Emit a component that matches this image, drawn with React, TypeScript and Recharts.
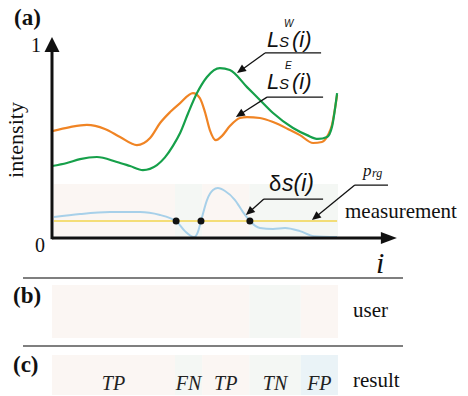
import React from 'react';
import {
  ComposedChart, Line, XAxis, YAxis, ReferenceArea, ReferenceLine, ReferenceDot
} from 'recharts';

const W = 468;
const H = 396;

// L_S^E(i) samples
const iE = [0, 6.3, 12.2, 18.5, 23.8, 29.7, 34.3, 37.8, 41.3, 44.8, 49.3, 51.7, 53.5, 55.2, 57.3, 59.4, 62.2, 65.7, 68.2, 72.7, 77.3, 83.2, 86.7, 91.3, 94.4, 96.5, 97.9, 99.7];
const lsE = [0.557, 0.578, 0.589, 0.568, 0.526, 0.484, 0.521, 0.599, 0.656, 0.703, 0.755, 0.729, 0.656, 0.5625, 0.51, 0.531, 0.583, 0.625, 0.63, 0.625, 0.604, 0.5625, 0.536, 0.495, 0.5, 0.536, 0.589, 0.745];

// L_S^W(i) samples
const iW = [0, 5.2, 9.8, 15.7, 22.7, 27.3, 31.8, 36.7, 39.5, 42.3, 44.8, 47.6, 50.7, 54.2, 58.7, 62.2, 68.2, 72.7, 77.3, 84.3, 89.2, 93.0, 96.2, 97.9, 99.7];
const lsW = [0.375, 0.391, 0.411, 0.422, 0.396, 0.375, 0.354, 0.38, 0.42, 0.48, 0.547, 0.65, 0.755, 0.839, 0.885, 0.875, 0.786, 0.719, 0.651, 0.573, 0.536, 0.516, 0.526, 0.578, 0.755];

// δs(i) samples
const iDelta = [0.7, 9.8, 20.3, 30.8, 37.8, 41.3, 43.4, 46.5, 49.7, 51.0, 52.1, 54.2, 56.3, 58.0, 60.5, 64.0, 66.8, 69.2, 72.7, 77.3, 81.5, 86.7, 91.6, 99.7];
const deltaS = [0.109, 0.125, 0.135, 0.135, 0.12, 0.104, 0.0885, 0.036, 0.005, 0.031, 0.0885, 0.198, 0.25, 0.26, 0.245, 0.198, 0.135, 0.0885, 0.052, 0.047, 0.052, 0.036, 0.01, 0.005];

// threshold p_rg and where δs crosses it
const pRg = 0.0885;
const pRgSpan = [0.7, 99.7];
const crossings = [43.4, 52.1, 69.2];

// segmentations: measurement (a), user (b), result (c)
const measEdges = [0.7, 43, 52.5, 69, 100];
const measClass = ['pos', 'neg', 'pos', 'neg'];
const userEdges = [0, 69, 87, 100];
const userClass = ['pos', 'neg', 'pos'];
const resultEdges = [0, 43, 52.5, 69, 87, 100];
const resultLabels = ['TP', 'FN', 'TP', 'TN', 'FP'];

// callouts: underline start, underline end, arrow target
const callouts = [
  { x0: 74.5, x1: 94.1, y: 0.964, tx: 64.7, ty: 0.859 },
  { x0: 75.2, x1: 94.8, y: 0.734, tx: 64.3, ty: 0.63 },
  { x0: 74.1, x1: 94.8, y: 0.203, tx: 67.8, ty: 0.12 },
  { x0: 105.9, x1: 117.5, y: 0.276, tx: 90.9, ty: 0.094 },
];

const shade: Record<string, string> = {
  pos: '#fbf6f3', neg: '#f4f7f4', TP: '#fbf6f3', FN: '#f4f7f4', TN: '#f4f7f4', FP: '#eaf3f7',
};

const SERIF = 'Liberation Serif, Times New Roman, Times, DejaVu Serif, serif';
const SANS = 'Liberation Sans, Arial, Helvetica, sans-serif';
const serif = { fontFamily: SERIF };
const sans = { fontFamily: SANS };

const pts = (xs: number[], ys: number[]) => xs.map((x, k) => ({ x, y: ys[k] }));

const arrow = (head: number, half: number, width: number) => (p: any) => {
  const { x1, y1, x2, y2 } = p;
  const dx = x2 - x1, dy = y2 - y1;
  const len = Math.hypot(dx, dy) || 1;
  const ux = dx / len, uy = dy / len;
  const bx = x2 - ux * head, by = y2 - uy * head;
  const px = -uy * half, py = ux * half;
  return (
    <g>
      <line x1={x1} y1={y1} x2={bx + ux} y2={by + uy} stroke="#111" strokeWidth={width} />
      <polygon points={`${x2},${y2} ${bx + px},${by + py} ${bx - px},${by - py}`} fill="#111" />
    </g>
  );
};

const bands = (edges: number[], cls: string[], y1: number, y2: number, key: string, labels?: boolean) =>
  cls.map((c, k) => (
    <ReferenceArea
      key={`${key}-${k}`}
      x1={edges[k]}
      x2={edges[k + 1]}
      y1={y1}
      y2={y2}
      fill={shade[c]}
      fillOpacity={1}
      stroke="none"
      label={labels ? {
        value: c, position: 'insideBottom', offset: 5,
        fill: '#222', fontSize: 20, fontStyle: 'italic', style: serif,
      } : undefined}
    />
  ));

export default function App() {
  return (
    <div style={{ position: 'relative', width: W, height: H, background: '#fff' }}>
      <style>{'body{margin:0}'}</style>
      <ComposedChart width={W} height={H} margin={{ top: 34.5, right: 70, bottom: 0.5, left: 52 }}>
        <XAxis type="number" dataKey="x" domain={[0, 121]} hide allowDataOverflow />
        <YAxis type="number" dataKey="y" domain={[-0.82, 1.06]} hide allowDataOverflow />

        {bands(measEdges, measClass, 0.0104, 0.281, 'a')}
        {bands(userEdges, userClass, -0.521, -0.245, 'b')}
        {bands(resultEdges, resultLabels, -0.818, -0.609, 'c', true)}

        <Line data={pts(iE, lsE)} dataKey="y" type="monotone" stroke="#f08424" strokeWidth={2.2}
          dot={false} activeDot={false} isAnimationActive={false} />
        <Line data={pts(iW, lsW)} dataKey="y" type="monotone" stroke="#16a04a" strokeWidth={2.2}
          dot={false} activeDot={false} isAnimationActive={false} />
        <Line data={pts(pRgSpan, [pRg, pRg])} dataKey="y" type="linear" stroke="#f2d44e" strokeWidth={1.6}
          dot={false} activeDot={false} isAnimationActive={false} />
        <Line data={pts(iDelta, deltaS)} dataKey="y" type="monotone" stroke="#a7d0e9" strokeWidth={2}
          dot={false} activeDot={false} isAnimationActive={false} />

        {crossings.map((x) => (
          <ReferenceDot key={x} x={x} y={pRg} r={3.5} fill="#111" stroke="none" />
        ))}

        {/* axes */}
        <ReferenceLine segment={[{ x: 0, y: -0.006 }, { x: 0, y: 1.047 }]} shape={arrow(15, 7.5, 3)} />
        <ReferenceLine segment={[{ x: 0, y: 0 }, { x: 120.6, y: 0 }]} shape={arrow(16, 6, 3)} />

        {callouts.map((c, k) => (
          <ReferenceLine key={`u${k}`} segment={[{ x: c.x0, y: c.y }, { x: c.x1, y: c.y }]} stroke="#111" strokeWidth={1.3} />
        ))}
        {callouts.map((c, k) => (
          <ReferenceLine key={`a${k}`} segment={[{ x: c.x0, y: c.y }, { x: c.tx, y: c.ty }]} shape={arrow(9, 4, 1.3)} />
        ))}
      </ComposedChart>

      <svg width={W} height={H} style={{ position: 'absolute', left: 0, top: 0, pointerEvents: 'none' }}>
        <g fill="#111">
          <text x={14} y={25} fontSize={23} fontWeight="bold" style={serif}>(a)</text>
          <text x={13} y={303} fontSize={23} fontWeight="bold" style={serif}>(b)</text>
          <text x={13} y={372} fontSize={23} fontWeight="bold" style={serif}>(c)</text>
          <text x={36} y={52} fontSize={20} textAnchor="middle" style={serif}>1</text>
          <text x={40} y={252} fontSize={20} textAnchor="middle" style={serif}>0</text>
          <text x={23} y={140} fontSize={22} textAnchor="middle" transform="rotate(-90 23 140)" style={serif}>intensity</text>
          <text x={345} y={218} fontSize={21} style={serif}>measurement</text>
          <text x={353} y={317} fontSize={21} style={serif}>user</text>
          <text x={353} y={387} fontSize={21} style={serif}>result</text>
          <text x={376} y={273} fontSize={30} fontStyle="italic" style={serif}>i</text>
          <text x={363} y={176} fontSize={17} fontStyle="italic" style={serif}>p</text>
          <text x={372} y={177} fontSize={12} fontStyle="italic" style={serif}>rg</text>
        </g>
        <g fill="#111" fontStyle="italic">
          <text x={267} y={47} fontSize={22} style={sans}>L</text>
          <text x={279} y={47} fontSize={15} style={sans}>S</text>
          <text x={284} y={27} fontSize={10} style={sans}>W</text>
          <text x={292} y={47} fontSize={22} style={sans}>(i)</text>
          <text x={267} y={89} fontSize={22} style={sans}>L</text>
          <text x={279} y={89} fontSize={15} style={sans}>S</text>
          <text x={285} y={69} fontSize={10} style={sans}>E</text>
          <text x={292} y={89} fontSize={22} style={sans}>(i)</text>
          <text x={269} y={191} fontSize={22} fontStyle="normal" style={sans}>δ</text>
          <text x={282} y={191} fontSize={23} style={sans}>s(i)</text>
        </g>
        <line x1={23} y1={278} x2={403} y2={278} stroke="#555" strokeWidth={1.5} />
        <line x1={23} y1={346} x2={403} y2={346} stroke="#555" strokeWidth={1.5} />
      </svg>
    </div>
  );
}
